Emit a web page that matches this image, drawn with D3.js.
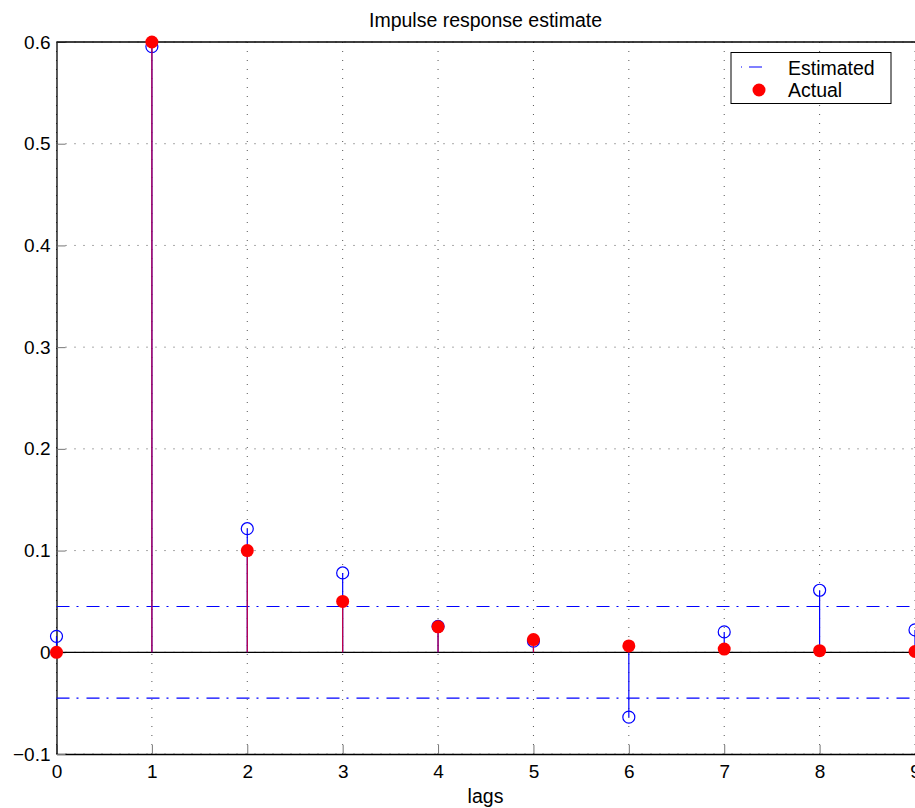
<!DOCTYPE html>
<html>
<head>
<meta charset="utf-8">
<script src="https://cdn.jsdelivr.net/npm/d3@7"></script>
<style>
  body { margin: 0; background: #fff; }
  svg { display: block; font-family: "Liberation Sans", Arial, sans-serif; }
</style>
</head>
<body>
<div id="grafica"></div>
<script>
// datos
const lags = [0, 1, 2, 3, 4, 5, 6, 7, 8, 9];
const estimado = [0.0157, 0.5955, 0.1215, 0.078, 0.0255, 0.011, -0.0638, 0.020, 0.061, 0.022];
const real = [0, 0.6, 0.1, 0.05, 0.025, 0.0125, 0.00625, 0.003125, 0.0016, 0.0008];
const confianza = 0.045;
const ticksX = [0, 1, 2, 3, 4, 5, 6, 7, 8, 9];
const ticksY = [-0.1, 0, 0.1, 0.2, 0.3, 0.4, 0.5, 0.6];

const W = 915, H = 808;
const margin = { top: 42, right: 0, bottom: 54, left: 56.5 };

const svg = d3.select("#grafica").append("svg")
    .attr("width", W).attr("height", H);

const x = d3.scaleLinear().domain([0, 9]).range([margin.left, 915]);
const y = d3.scaleLinear().domain([-0.1, 0.6]).range([H - margin.bottom, margin.top]);

const azul = "#0000ff", rojo = "#ff0000";

// rejilla punteada
svg.append("g").selectAll("line").data(ticksX).enter().append("line")
    .attr("x1", d => x(d)).attr("x2", d => x(d))
    .attr("y1", y(-0.1)).attr("y2", y(0.6))
    .attr("stroke", "#555").attr("stroke-width", 1)
    .attr("stroke-dasharray", "1,8");
svg.append("g").selectAll("line").data(ticksY).enter().append("line")
    .attr("x1", x(0)).attr("x2", x(9))
    .attr("y1", d => y(d)).attr("y2", d => y(d))
    .attr("stroke", "#555").attr("stroke-width", 1)
    .attr("stroke-dasharray", "1,8");

// ejes con ticks hacia dentro
const ejeX = svg.append("g")
    .attr("transform", `translate(0,${y(-0.1)})`)
    .call(d3.axisBottom(x).tickValues(ticksX).tickSizeInner(-9).tickSizeOuter(0).tickPadding(11)
        .tickFormat(d3.format("d")));
const ejeY = svg.append("g")
    .attr("transform", `translate(${x(0)},0)`)
    .call(d3.axisLeft(y).tickValues(ticksY).tickSizeInner(-9).tickSizeOuter(0).tickPadding(6)
        .tickFormat(d => d === 0 ? "0" : d3.format(".1f")(d).replace("-", "\u2212")));

[ejeX, ejeY].forEach(g => {
    g.select(".domain").attr("stroke", "#000").attr("stroke-width", 1.3);
    g.selectAll(".tick line").attr("stroke", "#777");
    g.selectAll("text").style("font-size", "19px").attr("fill", "#000");
});

// borde superior
svg.append("line")
    .attr("x1", x(0)).attr("x2", x(9))
    .attr("y1", y(0.6)).attr("y2", y(0.6))
    .attr("stroke", "#000").attr("stroke-width", 1.3);

// intervalo de confianza
svg.append("g").selectAll("line").data([confianza, -confianza]).enter().append("line")
    .attr("x1", x(0)).attr("x2", x(9))
    .attr("y1", d => y(d)).attr("y2", d => y(d))
    .attr("stroke", azul).attr("stroke-width", 1.2)
    .attr("stroke-dasharray", "13,7,2,8");

// línea base
svg.append("line")
    .attr("x1", x(0)).attr("x2", x(9))
    .attr("y1", y(0)).attr("y2", y(0))
    .attr("stroke", "#000").attr("stroke-width", 1.3);

// tallos estimados
svg.append("g").selectAll("line").data(lags).enter().append("line")
    .attr("x1", d => x(d)).attr("x2", d => x(d))
    .attr("y1", y(0)).attr("y2", (d, i) => y(estimado[i]))
    .attr("stroke", azul).attr("stroke-width", 1.2);
svg.append("g").selectAll("circle").data(lags).enter().append("circle")
    .attr("cx", d => x(d)).attr("cy", (d, i) => y(estimado[i]))
    .attr("r", 6).attr("fill", "none").attr("stroke", azul).attr("stroke-width", 1.2);

// tallos reales
svg.append("g").selectAll("line").data(lags).enter().append("line")
    .attr("x1", d => x(d)).attr("x2", d => x(d))
    .attr("y1", y(0)).attr("y2", (d, i) => y(real[i]))
    .attr("stroke", "#c8003c").attr("stroke-width", 1.2);
svg.append("g").selectAll("circle").data(lags).enter().append("circle")
    .attr("cx", d => x(d)).attr("cy", (d, i) => y(real[i]))
    .attr("r", 6.5).attr("fill", rojo);

// título y etiqueta
svg.append("text")
    .attr("x", 485.5).attr("y", 26.5)
    .attr("text-anchor", "middle")
    .style("font-size", "19.5px")
    .text("Impulse response estimate");
svg.append("text")
    .attr("x", 485.5).attr("y", 803)
    .attr("text-anchor", "middle")
    .style("font-size", "19.5px")
    .text("lags");

// leyenda
const leyenda = svg.append("g");
leyenda.append("rect")
    .attr("x", 731).attr("y", 52.5).attr("width", 160).attr("height", 51)
    .attr("fill", "#fff").attr("stroke", "#000").attr("stroke-width", 1);
leyenda.append("line")
    .attr("x1", 741).attr("x2", 774).attr("y1", 67).attr("y2", 67)
    .attr("stroke", azul).attr("stroke-width", 1.2)
    .attr("stroke-dasharray", "1,7,13,30");
leyenda.append("circle")
    .attr("cx", 759).attr("cy", 90).attr("r", 6.5).attr("fill", rojo);
leyenda.append("text").attr("x", 788).attr("y", 74.5)
    .style("font-size", "19.5px").text("Estimated");
leyenda.append("text").attr("x", 788).attr("y", 97)
    .style("font-size", "19.5px").text("Actual");
</script>
</body>
</html>
